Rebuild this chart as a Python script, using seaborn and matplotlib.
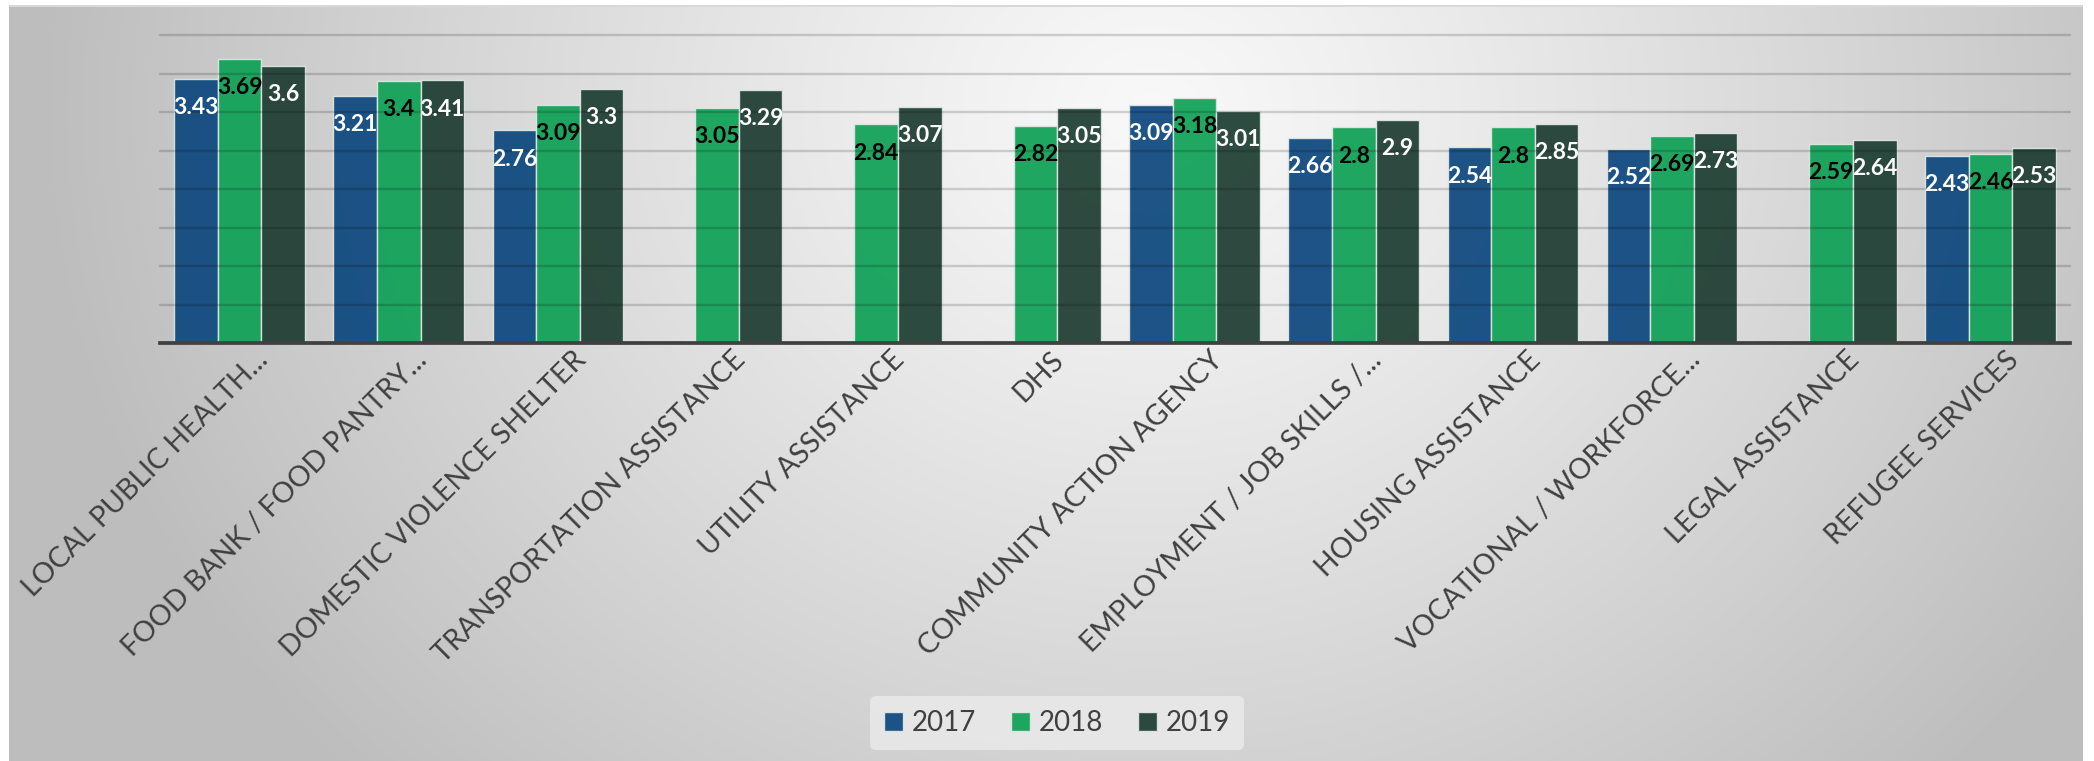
import numpy as np
import pandas as pd
import matplotlib
matplotlib.use("Agg")
import matplotlib.pyplot as plt
import matplotlib.transforms as mtransforms
import seaborn as sns

categories = ["LOCAL PUBLIC HEALTH...", "FOOD BANK / FOOD PANTRY...", "DOMESTIC VIOLENCE SHELTER",
              "TRANSPORTATION ASSISTANCE", "UTILITY ASSISTANCE", "DHS", "COMMUNITY ACTION AGENCY",
              "EMPLOYMENT / JOB SKILLS /...", "HOUSING ASSISTANCE", "VOCATIONAL / WORKFORCE...",
              "LEGAL ASSISTANCE", "REFUGEE SERVICES"]
years = ["2017", "2018", "2019"]
vals_2017 = [3.43, 3.21, 2.76, np.nan, np.nan, np.nan, 3.09, 2.66, 2.54, 2.52, np.nan, 2.43]
vals_2018 = [3.69, 3.4, 3.09, 3.05, 2.84, 2.82, 3.18, 2.8, 2.8, 2.69, 2.59, 2.46]
vals_2019 = [3.6, 3.41, 3.3, 3.29, 3.07, 3.05, 3.01, 2.9, 2.85, 2.73, 2.64, 2.53]

colors = ["#0b467d", "#0da055", "#1d3c31"]
label_colors = ["white", "black", "white"]

rows = []
for yr, vals in zip(years, [vals_2017, vals_2018, vals_2019]):
    for c, v in zip(categories, vals):
        rows.append({"category": c, "year": yr, "value": v})
df = pd.DataFrame(rows).dropna()

sns.set_style("white")
plt.rcParams["font.family"] = ["Lato", "DejaVu Sans"]

W, H = 2094, 761
fig = plt.figure(figsize=(W / 100, H / 100), dpi=100)
fig.patch.set_facecolor("white")

# background radial gradient
bg = fig.add_axes([0, 0, 1, 1], zorder=-5)
yy, xx = np.mgrid[0:H, 0:W]
t = np.sqrt(((xx - 1150) / 1100.0) ** 2 + ((yy - 110) / 950.0) ** 2)
t = np.clip(t, 0, 1)
v = 0.975 - 0.23 * t ** 1.15
img = np.ones((H, W, 3))
mask = (xx >= 9) & (xx <= 2082) & (yy >= 5)
for k in range(3):
    ch = img[:, :, k]
    ch[mask] = v[mask]
img[5:7, 9:2083, :] = 0.85
bg.imshow(img, extent=[0, W, H, 0], aspect="auto", interpolation="bilinear")
bg.set_xlim(0, W)
bg.set_ylim(H, 0)
bg.axis("off")

ax = fig.add_axes([160 / W, 1 - 343 / H, 1910 / W, 308 / H])
ax.set_facecolor("none")

sns.barplot(data=df, x="category", y="value", hue="year", order=categories, hue_order=years,
            palette=colors, width=0.82, edgecolor="#dfe8e3", linewidth=1.0, alpha=0.92,
            saturation=1, errorbar=None, ax=ax, zorder=2)

ax.set_ylim(0, 4)
ax.set_yticks(np.arange(0, 4.01, 0.5))
ax.set_yticklabels([])
ax.tick_params(axis="y", length=0)
for yv in np.arange(0.5, 4.01, 0.5):
    ax.axhline(yv, color="black", alpha=0.16, lw=1.7, zorder=3, clip_on=False)

for s in ["top", "right", "left"]:
    ax.spines[s].set_visible(False)
ax.spines["bottom"].set_color("#404040")
ax.spines["bottom"].set_linewidth(2.7)
ax.spines["bottom"].set_zorder(4)

ax.set_xlabel("")
ax.set_ylabel("")
ax.tick_params(axis="x", length=0, pad=0)
ax.set_xticks(range(len(categories)))
ax.set_xticklabels(categories, rotation=45, ha="right", va="center", rotation_mode="anchor",
                   fontsize=20.5, color="#404040")
offset = mtransforms.ScaledTranslation(24 / 100, -13 / 100, fig.dpi_scale_trans)
for lab in ax.get_xticklabels():
    lab.set_transform(lab.get_transform() + offset)

for i, cont in enumerate(ax.containers):
    for p in cont.patches:
        h = p.get_height()
        if np.isnan(h) or h <= 0:
            continue
        ax.annotate(f"{h:g}", (p.get_x() + p.get_width() / 2, h), xytext=(0, -20.7),
                    textcoords="offset points", ha="center", va="center",
                    fontsize=16.5, fontweight="bold", color=label_colors[i], zorder=6)

handles, labels = ax.get_legend_handles_labels()
leg = ax.legend(handles, labels, ncol=3, loc="center", bbox_to_anchor=(1057 / W, 1 - 723 / H),
                bbox_transform=fig.transFigure, frameon=True, fontsize=20, handlelength=0.7,
                handleheight=0.7, handletextpad=0.3, columnspacing=1.25, borderpad=0.5)
leg.get_frame().set_facecolor("#ebebeb")
leg.get_frame().set_edgecolor("none")
leg.get_frame().set_alpha(0.8)
for t_ in leg.get_texts():
    t_.set_color("#404040")

fig.savefig("out.png", dpi=100)
